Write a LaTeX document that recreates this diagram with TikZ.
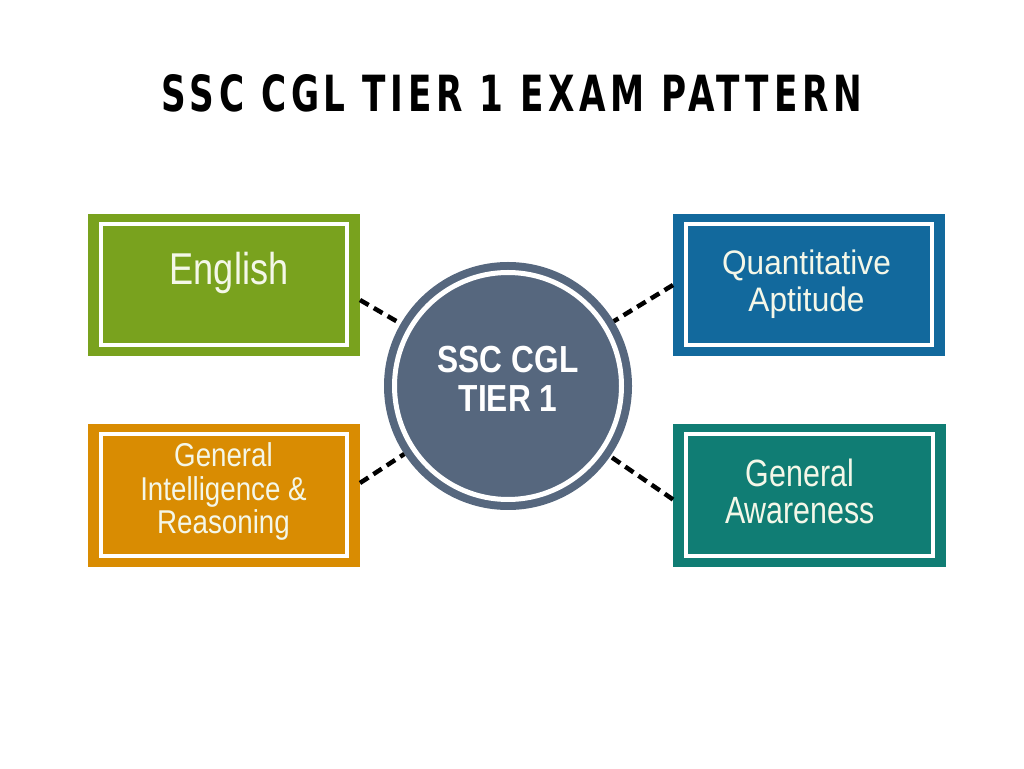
\documentclass[tikz,border=0pt]{standalone}
\usepackage{fontspec}
\usepackage{graphicx}
\setmainfont{Liberation Sans}
\newfontfamily\titlefont{DejaVu Sans}[LetterSpace=14]
\definecolor{cgreen}{HTML}{79A21E}
\definecolor{corange}{HTML}{D98C02}
\definecolor{cblue}{HTML}{12699D}
\definecolor{cteal}{HTML}{107D74}
\definecolor{cslate}{HTML}{56677E}
\definecolor{ctext}{HTML}{F4F7E8}
\tikzset{
  subjbox/.style={rectangle, draw=none, inner sep=0pt, outer sep=0pt, minimum width=272pt, minimum height=142pt},
  innerframe/.style={draw=white, line width=4pt},
  lbl/.style={inner sep=0pt, outer sep=0pt, text=ctext, align=center},
  conn/.style={draw=black, line width=4.5pt, dash pattern=on 10pt off 6pt},
}
\begin{document}
\begin{tikzpicture}[x=1pt,y=1pt]
\useasboundingbox[fill=white] (0,0) rectangle (1024,768);

% title
\node[inner sep=0pt] (title) at (512,674.5) {\resizebox{700pt}{37pt}{\titlefont\bfseries SSC CGL TIER 1 EXAM PATTERN}};

% boxes
\node[subjbox, fill=cgreen] (eng) at (224,483) {};
\node[subjbox, fill=cblue] (qa) at (809,483) {};
\node[subjbox, fill=corange, minimum height=143pt] (gi) at (224,272.5) {};
\node[subjbox, fill=cteal, minimum width=273pt, minimum height=143pt] (ga) at (809.5,272.5) {};
\foreach \n in {eng,qa,gi,ga}
  \draw[innerframe] ([shift={(13,-10)}]\n.north west) rectangle ([shift={(-13,11)}]\n.south east);

% hub
\node[circle, fill=cslate, minimum size=248pt, inner sep=0pt, outer sep=0pt] (hub) at (508,382) {};
\draw[white, line width=5pt] (hub.center) circle[radius=113.5pt];

% connectors
\draw[conn] ([yshift=-15pt]eng.east) -- (hub);
\draw[conn] (qa.west) -- (hub);
\draw[conn] ([yshift=12.5pt]gi.east) -- (hub);
\draw[conn] ([yshift=-4pt]ga.west) -- (hub);

% labels
\node[lbl, anchor=base] (engT) at (229,483) {\fontsize{44.6}{50}\selectfont\scalebox{0.81}[1]{English}};
\node[lbl, anchor=base] (qaT) at (806.5,493) {\fontsize{34}{37}\selectfont\scalebox{0.93}[1]{\begin{tabular}[t]{@{}c@{}}Quantitative\\Aptitude\end{tabular}}};
\node[lbl, anchor=base] (giT) at (223.5,301) {\fontsize{33}{31.5}\selectfont\scalebox{0.84}[1]{\begin{tabular}[t]{@{}c@{}}General\\Intelligence \&\\Reasoning\end{tabular}}};
\node[lbl, anchor=base] (gaT) at (800,281) {\fontsize{38}{34}\selectfont\scalebox{0.8}[1]{\begin{tabular}[t]{@{}c@{}}General\\Awareness\end{tabular}}};
\node[lbl, anchor=base, text=white] (hubT) at (508,395) {\fontsize{37.7}{39}\selectfont\bfseries\scalebox{0.84}[1]{\begin{tabular}[t]{@{}c@{}}SSC CGL\\TIER 1\end{tabular}}};
\end{tikzpicture}
\end{document}
